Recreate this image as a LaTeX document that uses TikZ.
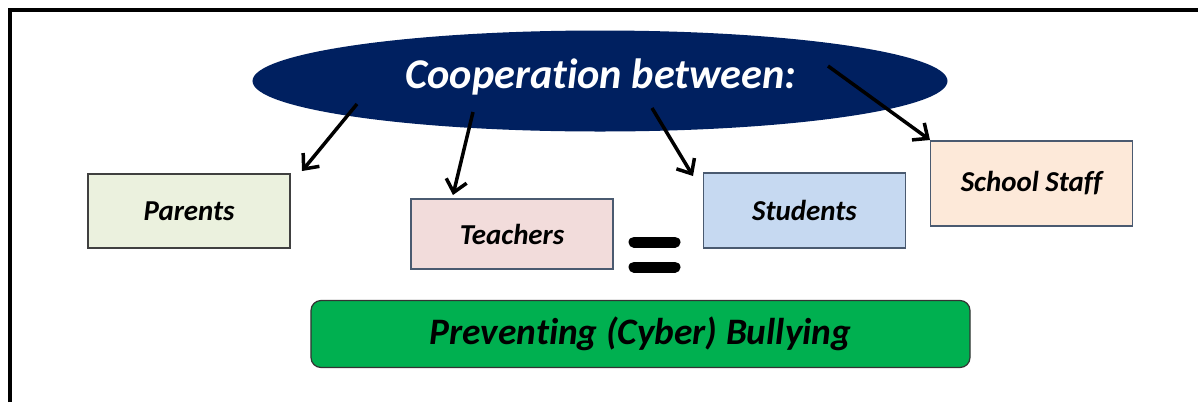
\documentclass[tikz,border=0pt]{standalone}
\usepackage{fontspec}
\setmainfont{Carlito}[Ligatures={NoCommon}]
\usetikzlibrary{shapes.geometric,arrows.meta}
\definecolor{navy}{HTML}{002060}
\definecolor{parfill}{HTML}{EBF1DE}
\definecolor{teafill}{HTML}{F2DCDB}
\definecolor{stufill}{HTML}{C6D9F1}
\definecolor{stafill}{HTML}{FDE9D9}
\definecolor{grn}{HTML}{00B050}
\definecolor{boxline}{HTML}{4A5A70}
\tikzset{
  member/.style={draw=boxline, line width=1.2bp, minimum width=202bp, minimum height=75bp,
    inner sep=0pt, font=\fontsize{29}{34}\selectfont\bfseries\itshape},
  link/.style={line width=3.5bp, -{Straight Barb[length=12bp,width=21bp,line width=3.5bp]}},
  eqbar/.style={line width=11bp, line cap=round}
}
\begin{document}
\begin{tikzpicture}[x=1bp,y=-1bp]
\useasboundingbox (0,0) rectangle (1198,402);
% frame
\draw[line width=4bp] (10,402) -- (10,10) -- (1198,10);
% ellipse
\node[ellipse, fill=navy, minimum width=695bp, minimum height=101bp, inner sep=0pt] (coop) at (600,81) {};
\node[text=white, font=\fontsize{42.5}{48}\selectfont\bfseries\itshape, inner sep=0pt] (cooptxt) at (601,77) {Cooperation between:};
% member boxes
\node[member, fill=parfill, draw=black!75, minimum height=74bp] (par) at (189,211) {\raisebox{-2bp}{Parents}};
\node[member, fill=teafill, minimum height=70bp] (tea) at (512,234) {\raisebox{-2bp}{Teachers}};
\node[member, fill=stufill, minimum height=75bp] (stu) at (804.5,210.5) {\raisebox{-2bp}{Students}};
\node[member, fill=stafill, minimum height=85bp] (sta) at (1031.5,183.5) {\raisebox{-2bp}{School Staff}};
% equals sign
\coordinate (eqa1) at (634,242); \coordinate (eqa2) at (675,242);
\coordinate (eqb1) at (634,267); \coordinate (eqb2) at (675,267);
\draw[eqbar] (eqa1) -- (eqa2);
\draw[eqbar] (eqb1) -- (eqb2);
% result box
\node[draw=black!80, fill=grn, rounded corners=10bp, line width=1.2bp, minimum width=659bp,
  minimum height=67bp, inner sep=0pt, font=\fontsize{37.5}{42}\selectfont\bfseries\itshape] (res) at (640.5,334) {\raisebox{-4bp}{Preventing (Cyber) Bullying}};
% arrow start and end points
\coordinate (s1) at (357,104); \coordinate (e1) at (302,171);
\coordinate (s2) at (473,112); \coordinate (e2) at (453,195);
\coordinate (s3) at (652,108); \coordinate (e3) at (693,176);
\coordinate (s4) at (828,66);  \coordinate (e4) at (930,140);
\draw[link] (s1) -- (e1);
\draw[link] (s2) -- (e2);
\draw[link] (s3) -- (e3);
\draw[link] (s4) -- (e4);
\end{tikzpicture}
\end{document}
